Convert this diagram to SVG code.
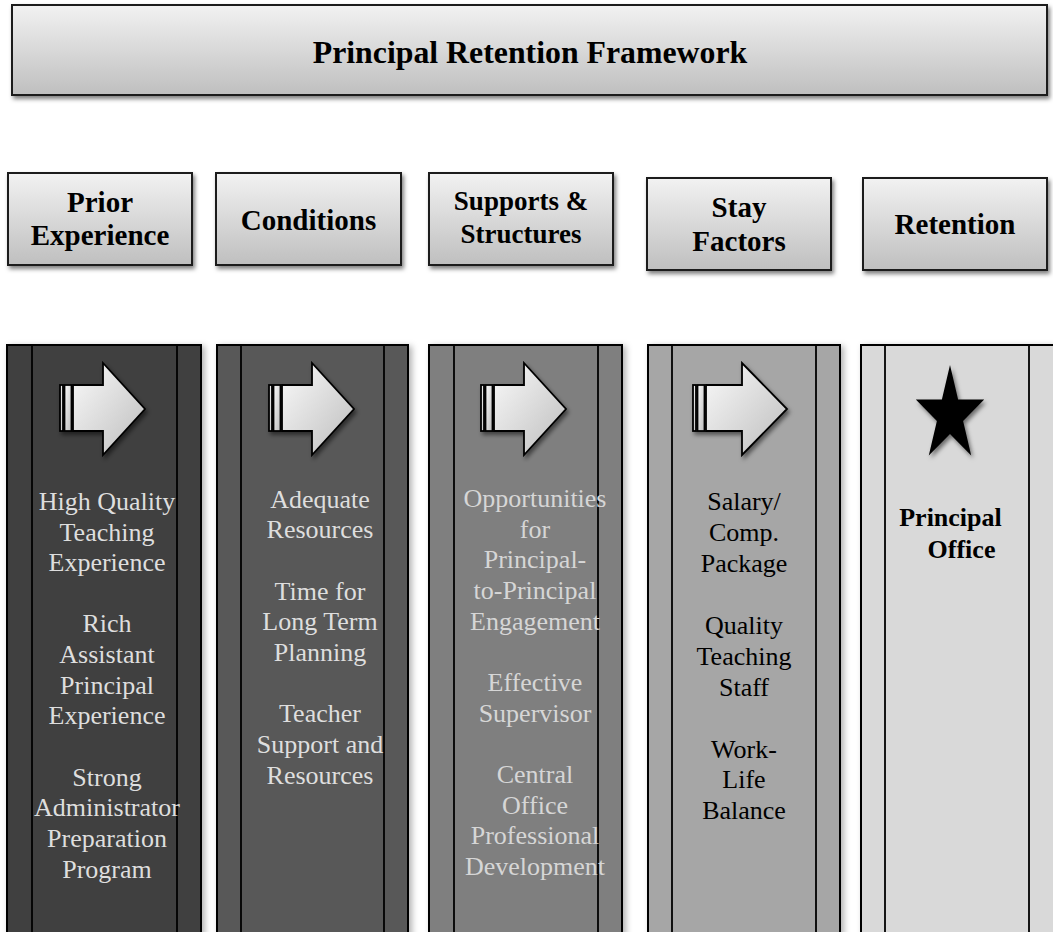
<svg xmlns="http://www.w3.org/2000/svg" width="1053" height="932" viewBox="0 0 1053 932">
<defs>
<linearGradient id="boxGrad" x1="0" y1="0" x2="0" y2="1">
<stop offset="0" stop-color="#f2f2f2"/>
<stop offset="1" stop-color="#bfbfbf"/>
</linearGradient>
<linearGradient id="arrowGrad" x1="0" y1="0" x2="1" y2="1">
<stop offset="0" stop-color="#fafafa"/>
<stop offset="1" stop-color="#bdbdbd"/>
</linearGradient>
<filter id="shadow" x="-10%" y="-10%" width="130%" height="130%">
<feDropShadow dx="2" dy="3" stdDeviation="2" flood-color="#000" flood-opacity="0.5"/>
</filter>
<filter id="colShadow" x="-10%" y="-5%" width="130%" height="120%">
<feDropShadow dx="3" dy="2" stdDeviation="3" flood-color="#000" flood-opacity="0.3"/>
</filter>
<g id="arrowShape">
<rect x="53" y="385" width="3" height="46"/>
<rect x="57.5" y="385" width="7" height="46"/>
<polygon points="66,385 96,385 96,363 138,409 96,455 96,431 66,431"/>
</g>
</defs>
<style>
.box{fill:url(#boxGrad);stroke:#1a1a1a;stroke-width:2;filter:url(#shadow)}
.hdr{font-family:"Liberation Serif","Times New Roman",serif;font-weight:bold;font-size:29px;fill:#000;text-anchor:middle}
.title{font-family:"Liberation Serif","Times New Roman",serif;font-weight:bold;font-size:31.8px;fill:#000;text-anchor:middle}
.col{stroke:#000;stroke-width:2;filter:url(#colShadow)}
.ln{stroke:#000;stroke-width:1.8}
.arrow{fill:url(#arrowGrad);stroke:#000;stroke-width:1.8;filter:url(#shadow)}
.ct{font-family:"Liberation Serif","Times New Roman",serif;font-size:26px;text-anchor:middle}
.light{fill:#dedede}
.light3{fill:#d6d6d6}
.dark{fill:#000}
.bold{font-weight:bold}
</style>

<g id="title">
<rect class="box" x="12" y="5" width="1035" height="90"/>
<text class="title" x="530" y="63">Principal Retention Framework</text>
</g>

<g id="hdr-prior">
<rect class="box" x="8" y="173" width="184" height="92"/>
<text class="hdr" x="100" y="212">Prior</text>
<text class="hdr" x="100" y="245">Experience</text>
</g>
<g id="hdr-conditions">
<rect class="box" x="216" y="173" width="185" height="92"/>
<text class="hdr" x="308.5" y="230">Conditions</text>
</g>
<g id="hdr-supports">
<rect class="box" x="429" y="173" width="184" height="92"/>
<text class="hdr" x="521" y="210" style="font-size:27px">Supports &amp;</text>
<text class="hdr" x="521" y="243" style="font-size:27px">Structures</text>
</g>
<g id="hdr-stay">
<rect class="box" x="647" y="178" width="184" height="92"/>
<text class="hdr" x="739" y="217">Stay</text>
<text class="hdr" x="739" y="251">Factors</text>
</g>
<g id="hdr-retention">
<rect class="box" x="863" y="178" width="184" height="92"/>
<text class="hdr" x="955" y="234">Retention</text>
</g>

<g id="col-prior">
<rect class="col" x="7" y="345" width="194" height="600" fill="#404040"/>
<line class="ln" x1="32" y1="345" x2="32" y2="940"/>
<line class="ln" x1="177" y1="345" x2="177" y2="940"/>
<use href="#arrowShape" class="arrow" x="7"/>
<g class="ct light">
<text x="107" y="510">High Quality</text>
<text x="107" y="541">Teaching</text>
<text x="107" y="571">Experience</text>
<text x="107" y="632">Rich</text>
<text x="107" y="663">Assistant</text>
<text x="107" y="694">Principal</text>
<text x="107" y="724">Experience</text>
<text x="107" y="786">Strong</text>
<text x="107" y="816">Administrator</text>
<text x="107" y="847">Preparation</text>
<text x="107" y="878">Program</text>
</g>
</g>

<g id="col-conditions">
<rect class="col" x="217" y="345" width="191" height="600" fill="#595959"/>
<line class="ln" x1="241" y1="345" x2="241" y2="940"/>
<line class="ln" x1="384" y1="345" x2="384" y2="940"/>
<use href="#arrowShape" class="arrow" x="216"/>
<g class="ct light">
<text x="320" y="508">Adequate</text>
<text x="320" y="538">Resources</text>
<text x="320" y="600">Time for</text>
<text x="320" y="630">Long Term</text>
<text x="320" y="661">Planning</text>
<text x="320" y="722">Teacher</text>
<text x="320" y="753">Support and</text>
<text x="320" y="784">Resources</text>
</g>
</g>

<g id="col-supports">
<rect class="col" x="429" y="345" width="193" height="600" fill="#7f7f7f"/>
<line class="ln" x1="454" y1="345" x2="454" y2="940"/>
<line class="ln" x1="598" y1="345" x2="598" y2="940"/>
<use href="#arrowShape" class="arrow" x="428"/>
<g class="ct light3">
<text x="535" y="507">Opportunities</text>
<text x="535" y="538">for</text>
<text x="535" y="568">Principal-</text>
<text x="535" y="599">to-Principal</text>
<text x="535" y="630">Engagement</text>
<text x="535" y="691">Effective</text>
<text x="535" y="722">Supervisor</text>
<text x="535" y="783">Central</text>
<text x="535" y="814">Office</text>
<text x="535" y="844">Professional</text>
<text x="535" y="875">Development</text>
</g>
</g>

<g id="col-stay">
<rect class="col" x="648" y="345" width="192" height="600" fill="#a6a6a6"/>
<line class="ln" x1="672" y1="345" x2="672" y2="940"/>
<line class="ln" x1="816" y1="345" x2="816" y2="940"/>
<g class="arrow">
<rect x="693" y="385" width="3" height="46"/>
<rect x="697.5" y="385" width="7" height="46"/>
<polygon points="706,385 742,385 742,363 787,409 742,455 742,431 706,431"/>
</g>
<g class="ct dark">
<text x="744" y="510">Salary/</text>
<text x="744" y="541">Comp.</text>
<text x="744" y="572">Package</text>
<text x="744" y="634">Quality</text>
<text x="744" y="665">Teaching</text>
<text x="744" y="696">Staff</text>
<text x="744" y="758">Work-</text>
<text x="744" y="788">Life</text>
<text x="744" y="819">Balance</text>
</g>
</g>

<g id="col-retention">
<rect class="col" x="861" y="345" width="200" height="600" fill="#d9d9d9"/>
<line class="ln" x1="885" y1="345" x2="885" y2="940"/>
<line class="ln" x1="1029" y1="345" x2="1029" y2="940"/>
<polygon fill="#000" filter="url(#shadow)" points="950,365 958.1,399.55 984.2,399.55 963.1,420.9 971.2,455.45 950,434.1 928.8,455.45 936.9,420.9 915.8,399.55 941.9,399.55"/>
<text class="ct dark bold" x="950.5" y="526">Principal</text>
<text class="ct dark bold" x="961.5" y="558">Office</text>
</g>

<g id="connectors"></g>
</svg>
